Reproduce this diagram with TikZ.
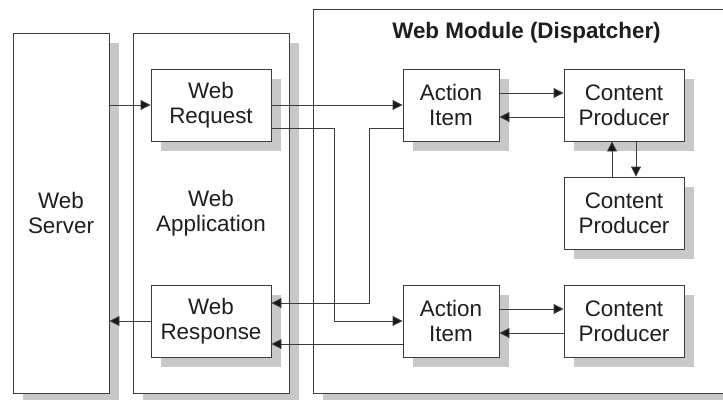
\documentclass[tikz,border=0pt]{standalone}
\usepackage{fontspec}
\setmainfont{Liberation Sans}
\usetikzlibrary{arrows.meta,shadows,calc}
\definecolor{shadowgray}{RGB}{200,200,201}
\definecolor{linegray}{RGB}{60,60,60}
\definecolor{textgray}{RGB}{30,30,30}
\begin{document}
\begin{tikzpicture}[x=1pt,y=-1pt,
  box/.style={draw=linegray, line width=0.9pt, fill=white, inner sep=0pt,
    align=center, text=textgray,
    font=\fontsize{22.4}{24.7}\selectfont,
    drop shadow={shadow xshift=10pt, shadow yshift=-10pt, fill=shadowgray, opacity=1}},
  arr/.style={draw=linegray, line width=0.9pt, -{Triangle[length=10pt,width=10pt,fill=black!90]}},
  ln/.style={draw=linegray, line width=0.9pt}
]
\clip (0,0) rectangle (723,399);
\fill[white] (0,0) rectangle (723,399);
% big containers
\node[box, minimum width=96, minimum height=360] (wserv) at (61,213) {Web\\Server};
\node[box, minimum width=156, minimum height=360] (wapp) at (211,213) {Web\\Application};
\node[box, minimum width=420, minimum height=384] (wmod) at (523,201) {};
\node[anchor=base, text=textgray, font=\fontsize{22.4}{24.7}\selectfont\bfseries] (title) at (526.5,38) {Web Module (Dispatcher)};
% inner boxes
\node[box, minimum width=120, minimum height=72] (wreq) at (211,105) {Web\\Request};
\node[box, minimum width=120, minimum height=72] (wresp) at (211,321) {Web\\Response};
\node[box, minimum width=96, minimum height=72] (ai1) at (451,105) {Action\\Item};
\node[box, minimum width=96, minimum height=72] (ai2) at (451,321) {Action\\Item};
\node[box, minimum width=120, minimum height=72] (cp1) at (624,105) {Content\\Producer};
\node[box, minimum width=120, minimum height=72] (cp2) at (624,213) {Content\\Producer};
\node[box, minimum width=120, minimum height=72] (cp3) at (624,321) {Content\\Producer};
% junction coordinates
\coordinate (j1) at (334,128);
\coordinate (j2) at (369,128);
% connectors
\draw[arr] (wserv.east |- wreq.west) -- (wreq.west);
\draw[arr] (wreq.east) -- (ai1.west);
\draw[arr] ($(wreq.east)+(0,23)$) -- (j1) |- (ai2.west);
\draw[arr] ($(ai1.west)+(0,23)$) -- (j2) |- ($(wresp.east)+(0,-18)$);
\draw[arr] ($(ai2.west)+(0,23)$) -- ($(wresp.east)+(0,23)$);
\draw[arr] (wresp.west) -- (wresp.west -| wserv.east);
\draw[arr] ($(ai1.east)+(0,-12)$) -- ($(cp1.west)+(0,-12)$);
\draw[arr] ($(cp1.west)+(0,12)$) -- ($(ai1.east)+(0,12)$);
\draw[arr] ($(cp2.north)+(-12,0)$) -- ($(cp1.south)+(-12,0)$);
\draw[arr] ($(cp1.south)+(12,0)$) -- ($(cp2.north)+(12,0)$);
\draw[arr] ($(ai2.east)+(0,-12)$) -- ($(cp3.west)+(0,-12)$);
\draw[arr] ($(cp3.west)+(0,12)$) -- ($(ai2.east)+(0,12)$);
\end{tikzpicture}
\end{document}
